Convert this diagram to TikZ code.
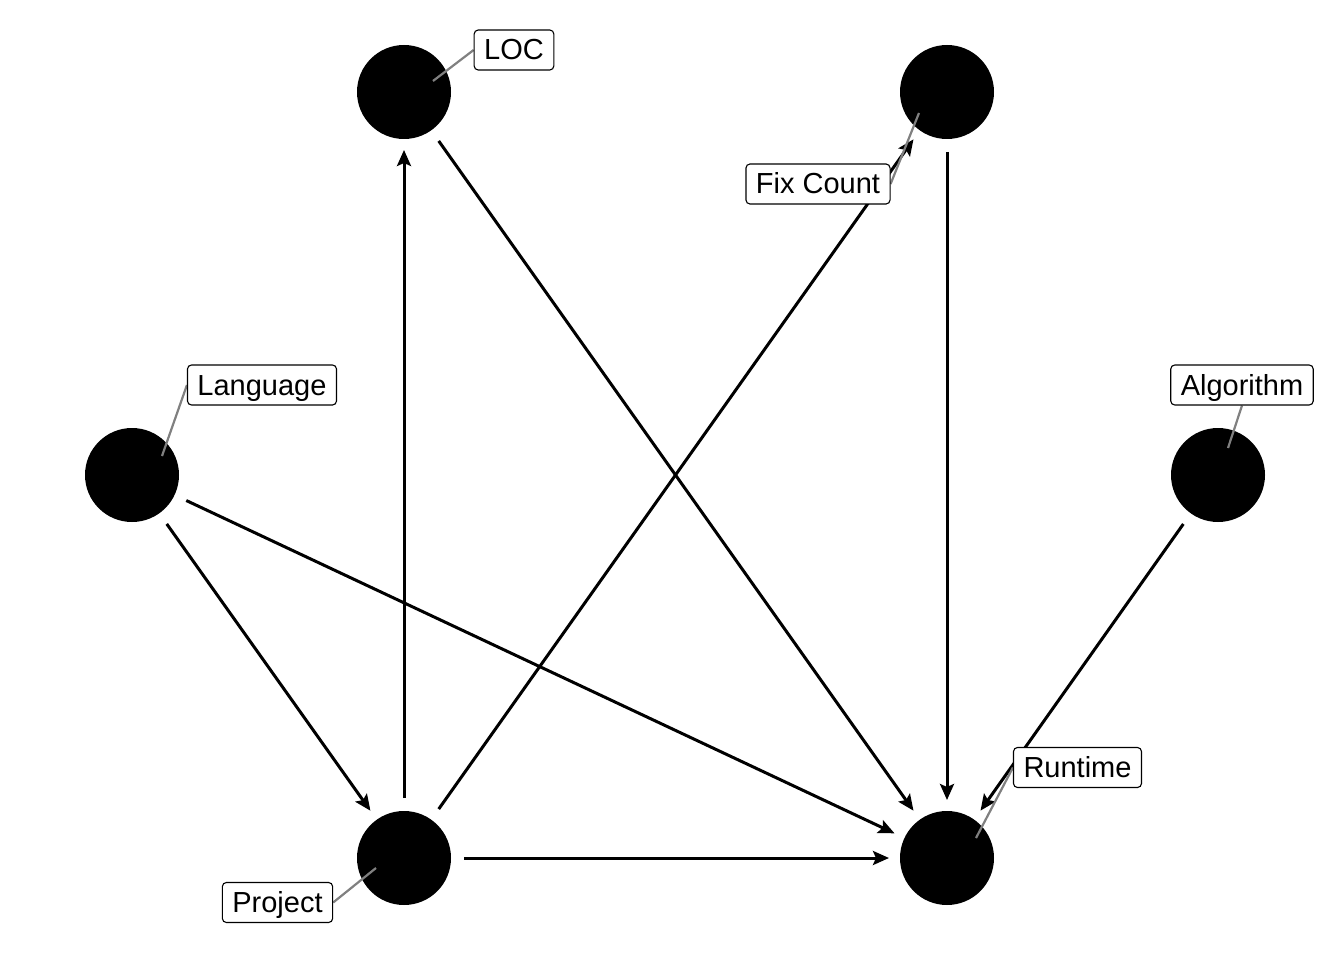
\documentclass[tikz,border=0pt]{standalone}
\usepackage{fontspec}
\setmainfont{Liberation Sans}
\usetikzlibrary{arrows.meta,backgrounds}

\begin{document}
\begin{tikzpicture}[
  x=1pt, y=-1pt,
  var/.style={circle, fill=black, minimum size=94pt, inner sep=0pt, outer sep=0pt},
  tag/.style={draw=black, line width=1.1pt, fill=white, rounded corners=4pt,
              font=\fontsize{29}{30}\selectfont, text height=23.5pt, text depth=3.5pt,
              inner xsep=10pt, inner ysep=6.5pt},
  link/.style={-{Stealth[length=16pt, width=14pt, inset=3pt]}, line width=3pt,
               shorten <=13pt, shorten >=11pt},
  lead/.style={draw=black!50, line width=2.2pt}
]
\useasboundingbox (0,0) rectangle (1344,960);

\begin{scope}[on background layer]
% ---------------- Variables ----------------
\node[var] (loc)  at (404,92)   {};
\node[var] (fix)  at (947,92)   {};
\node[var] (lang) at (132,475)  {};
\node[var] (alg)  at (1218,475) {};
\node[var] (proj) at (404,858)  {};
\node[var] (run)  at (947,858)  {};

% ---------------- Arrows ----------------
\draw[link] (proj) -- (loc);
\draw[link] (loc) -- (run);
\draw[link] (fix) -- (run);
\draw[link] (proj) -- (fix);
\draw[link] (lang) -- (proj);
\draw[link] (lang) -- (run);
\draw[link] (alg) -- (run);
\draw[link] (proj) -- (run);
\end{scope}

% ---------------- Labels ----------------
\coordinate (loc-p)  at (433,81);
\coordinate (fix-p)  at (919,113);
\coordinate (lang-p) at (162,456);
\coordinate (alg-p)  at (1228,448);
\coordinate (proj-p) at (376,868);
\coordinate (run-p)  at (976,838);

\node[tag] (loc-t)  at (514,50)       {LOC};
\node[tag] (fix-t)  at (818,184)      {Fix Count};
\node[tag] (lang-t) at (262,385)      {Language};
\node[tag] (alg-t)  at (1242,385)     {Algorithm};
\node[tag] (proj-t) at (277.5,902.5)  {Project};
\node[tag] (run-t)  at (1077.5,767.5) {Runtime};

\begin{scope}[on background layer]
\draw[lead] (loc-p) -- (loc-t.west);
\draw[lead] (fix-p) -- (fix-t.east);
\draw[lead] (lang-p) -- (lang-t.west);
\draw[lead] (alg-p) -- (alg-t.south);
\draw[lead] (proj-p) -- (proj-t.east);
\draw[lead] (run-p) -- (run-t.west);
\end{scope}

\end{tikzpicture}
\end{document}
